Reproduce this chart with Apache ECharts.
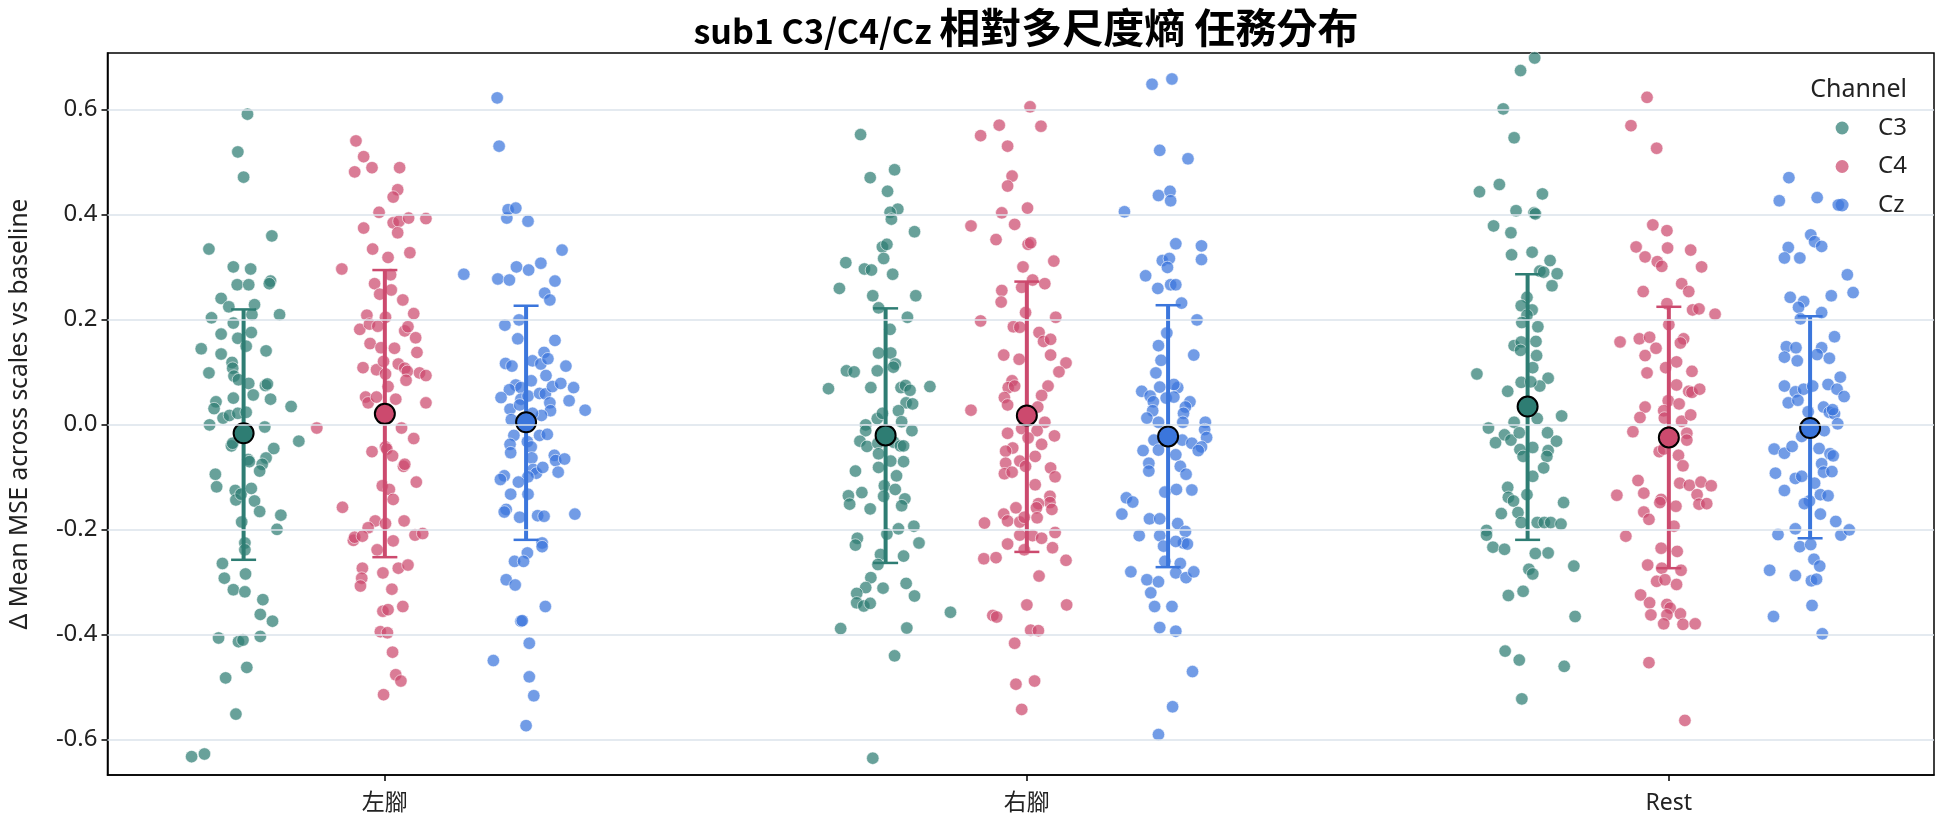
<!DOCTYPE html>
<html>
<head>
<meta charset="utf-8">
<title>sub1 C3/C4/Cz 相對多尺度熵 任務分布</title>
<script src="https://cdn.jsdelivr.net/npm/echarts@6/dist/echarts.min.js"></script>
<style>
  html, body { margin: 0; padding: 0; background: #fff; }
  #main { width: 1944px; height: 827px; }
</style>
</head>
<body>
<div id="main"></div>
<script>
var tasks = ['左腳', '右腳', 'Rest'];
var channels = ['C3', 'C4', 'Cz'];
var colors = ['#2e7d73', '#cc4a6e', '#3b76dc'];
var yTicks = [-0.6, -0.4, -0.2, 0, 0.2, 0.4, 0.6];

// 每個點的值 + 水平抖動 (單位: 千分之一個類別寬)
var c3LeftY = [0.591,0.519,0.471,0.359,0.334,0.300,0.296,0.266,0.266,0.273,0.268,0.240,0.224,0.228,0.203,0.209,0.209,0.193,0.172,0.164,0.175,0.144,0.134,0.149,0.140,0.118,0.107,0.098,0.092,0.085,0.078,0.074,0.077,0.056,0.048,0.050,0.043,0.030,0.034,0.012,0.017,0.021,0.023,-0.001,-0.005,-0.032,-0.041,-0.036,-0.046,-0.067,-0.071,-0.064,-0.076,-0.089,-0.095,-0.119,-0.126,-0.144,-0.133,-0.122,-0.146,-0.166,-0.173,-0.200,-0.186,-0.226,-0.239,-0.265,-0.293,-0.285,-0.315,-0.319,-0.334,-0.362,-0.375,-0.407,-0.414,-0.411,-0.404,-0.463,-0.483,-0.552,-0.633,-0.628];
var c3LeftJit = [6,-9,0,44,-54,-16,11,-10,8,42,40,-35,-23,17,-50,13,56,-16,-35,-9,12,-66,-35,4,35,-18,-17,-54,-15,-8,8,34,37,15,42,-16,-43,-46,74,-32,-22,-9,4,-53,33,86,-19,-17,47,7,9,35,29,25,-44,-42,-13,-12,-4,12,17,25,58,52,-3,2,2,-33,-30,3,-16,2,30,26,45,-39,-8,-1,26,5,-28,-12,-81,-61];
var c4LeftY = [0.540,0.510,0.481,0.489,0.489,0.447,0.433,0.404,0.374,0.384,0.387,0.393,0.392,0.365,0.334,0.327,0.318,0.296,0.285,0.268,0.256,0.248,0.237,0.208,0.204,0.211,0.181,0.191,0.187,0.178,0.186,0.165,0.154,0.146,0.145,0.137,0.108,0.104,0.120,0.096,0.115,0.107,0.101,0.098,0.093,0.084,0.072,0.052,0.041,0.052,0.048,0.041,-0.007,-0.007,-0.027,-0.052,-0.043,-0.047,-0.060,-0.080,-0.076,-0.110,-0.117,-0.124,-0.143,-0.158,-0.184,-0.197,-0.189,-0.184,-0.221,-0.215,-0.213,-0.211,-0.208,-0.239,-0.222,-0.274,-0.293,-0.308,-0.283,-0.274,-0.268,-0.314,-0.356,-0.353,-0.347,-0.395,-0.397,-0.434,-0.477,-0.489,-0.515];
var c4LeftJit = [-45,-33,-47,-20,23,20,13,-9,-33,13,22,37,64,20,-19,39,5,-67,9,-16,10,-8,28,-28,1,45,-39,-24,-11,31,36,48,-23,-6,15,50,-34,-13,-2,1,21,31,35,54,64,33,5,-30,-26,-13,17,64,-106,26,45,-20,1,3,12,29,31,49,-4,7,13,-66,-15,-26,1,30,-49,-47,-35,47,59,-12,13,-35,-36,-38,-3,21,36,11,-3,5,28,-7,4,12,17,25,-2];
var czLeftY = [0.622,0.530,0.393,0.409,0.412,0.387,0.332,0.286,0.277,0.275,0.300,0.294,0.307,0.273,0.250,0.237,0.189,0.199,0.163,0.160,0.116,0.111,0.121,0.115,0.137,0.125,0.111,0.093,0.083,0.075,0.066,0.070,0.051,0.048,0.054,0.059,0.058,0.072,0.078,0.070,0.045,0.041,0.026,0.029,0.037,0.027,0.009,0.017,0.021,-0.021,-0.033,-0.021,-0.019,-0.038,-0.043,-0.054,-0.064,-0.059,-0.069,-0.066,-0.086,-0.093,-0.082,-0.091,-0.100,-0.098,-0.105,-0.110,-0.133,-0.133,-0.162,-0.167,-0.177,-0.174,-0.175,-0.171,-0.226,-0.233,-0.245,-0.261,-0.261,-0.296,-0.306,-0.347,-0.375,-0.374,-0.417,-0.450,-0.481,-0.517,-0.574];
var czLeftJit = [-45,-42,-30,-28,-16,3,56,-97,-44,-26,-15,4,23,45,29,37,-33,-11,-13,45,-32,-22,10,23,28,34,62,31,8,-16,-26,-8,-39,-8,3,21,30,41,54,74,67,37,38,-25,-10,92,-23,24,10,-19,2,21,33,-25,8,-24,9,44,46,60,11,16,26,50,3,-34,-40,-12,3,-24,-31,-34,-10,18,28,76,25,25,2,-18,-4,-31,-17,30,-8,-6,5,-51,5,12,0];

var c3RightY = [0.552,0.485,0.470,0.444,0.410,0.404,0.391,0.367,0.338,0.343,0.316,0.308,0.296,0.294,0.286,0.259,0.245,0.245,0.222,0.204,0.181,0.136,0.136,0.115,0.109,0.102,0.100,0.102,0.068,0.070,0.070,0.074,0.065,0.072,0.041,0.039,0.026,0.011,0.021,0.005,-0.001,-0.012,-0.012,-0.032,-0.042,-0.036,-0.034,-0.041,-0.041,-0.056,-0.070,-0.071,-0.082,-0.089,-0.098,-0.117,-0.124,-0.130,-0.136,-0.152,-0.137,-0.142,-0.155,-0.161,-0.194,-0.199,-0.209,-0.217,-0.230,-0.226,-0.248,-0.251,-0.267,-0.292,-0.311,-0.312,-0.303,-0.327,-0.322,-0.340,-0.346,-0.341,-0.358,-0.389,-0.388,-0.441,-0.636];
var c3RightJit = [-39,14,-24,3,19,7,9,45,-5,2,-3,-62,-33,-22,11,-72,-20,47,-11,34,7,-11,8,15,12,-61,-49,-13,-89,-23,24,31,38,69,32,42,20,-13,-5,25,-31,-31,41,-40,-29,-12,13,23,28,-11,8,28,-11,-47,17,-2,15,-37,-58,-56,-3,30,25,-24,44,20,2,-44,-47,52,-8,28,-12,-23,-31,-4,32,45,-45,-45,-34,-24,101,-70,33,14,-20];
var c4RightY = [0.605,0.570,0.568,0.550,0.530,0.473,0.454,0.412,0.403,0.378,0.381,0.352,0.343,0.346,0.311,0.300,0.275,0.261,0.268,0.255,0.233,0.213,0.204,0.197,0.186,0.185,0.175,0.158,0.162,0.132,0.124,0.132,0.117,0.100,0.083,0.070,0.073,0.073,0.051,0.055,0.037,0.033,0.027,0.004,-0.008,-0.012,-0.017,-0.026,-0.022,-0.038,-0.045,-0.051,-0.061,-0.070,-0.080,-0.074,-0.083,-0.094,-0.091,-0.100,-0.115,-0.137,-0.149,-0.151,-0.162,-0.159,-0.159,-0.171,-0.184,-0.186,-0.177,-0.178,-0.188,-0.206,-0.211,-0.212,-0.217,-0.228,-0.235,-0.239,-0.256,-0.254,-0.259,-0.289,-0.344,-0.344,-0.364,-0.367,-0.392,-0.393,-0.417,-0.495,-0.489,-0.543];
var c4RightJit = [5,-43,22,-72,-30,-23,-30,1,-39,-87,-19,-48,2,6,42,-6,9,-8,28,-39,-40,-2,45,-72,-21,-11,19,26,37,-36,-12,37,61,50,-23,-29,-19,33,-35,23,-30,17,-87,28,-8,16,-30,2,43,23,-22,-33,13,-11,-2,-33,37,-35,-23,44,13,36,36,18,39,-17,15,-36,-30,-11,-4,16,-66,44,-11,9,23,-30,40,-4,-67,-48,61,19,0,62,-53,-47,6,18,-19,-17,12,-8];
var czRightY = [0.648,0.658,0.522,0.506,0.436,0.444,0.426,0.405,0.344,0.340,0.314,0.312,0.316,0.299,0.283,0.259,0.266,0.266,0.231,0.199,0.174,0.150,0.132,0.122,0.098,0.063,0.071,0.070,0.076,0.054,0.043,0.050,0.052,0.043,0.033,0.021,0.026,0.012,0.004,0.004,0.004,-0.010,-0.025,-0.030,-0.030,-0.036,-0.043,-0.050,-0.050,-0.049,-0.058,-0.074,-0.089,-0.080,-0.095,-0.129,-0.124,-0.125,-0.140,-0.148,-0.171,-0.180,-0.180,-0.189,-0.204,-0.212,-0.212,-0.226,-0.228,-0.223,-0.232,-0.261,-0.265,-0.281,-0.296,-0.300,-0.283,-0.292,-0.281,-0.321,-0.347,-0.347,-0.387,-0.394,-0.471,-0.538,-0.591];
var czRightJit = [-25,6,-13,31,-15,3,4,-68,12,52,52,-9,2,-1,-35,-16,4,12,21,45,-2,-15,40,-11,-19,-41,-13,15,9,-28,-23,-3,9,34,27,24,-24,-33,-15,23,58,57,60,-22,22,37,52,47,-39,-15,12,-30,-30,19,28,-5,13,37,-65,-55,-72,-29,-13,15,27,-45,-13,24,30,12,-7,-5,19,-58,-33,-15,12,28,40,-27,-21,6,-13,12,38,7,-15];

var c3RestY = [0.698,0.674,0.601,0.546,0.443,0.457,0.439,0.407,0.403,0.401,0.378,0.365,0.323,0.328,0.312,0.292,0.290,0.287,0.264,0.242,0.226,0.218,0.208,0.194,0.186,0.150,0.157,0.158,0.141,0.131,0.108,0.096,0.088,0.073,0.080,0.081,0.063,0.016,0.011,-0.007,0.004,-0.020,-0.035,-0.030,-0.016,-0.016,-0.032,-0.044,-0.050,-0.048,-0.061,-0.061,-0.083,-0.099,-0.120,-0.139,-0.146,-0.134,-0.170,-0.168,-0.187,-0.187,-0.187,-0.187,-0.190,-0.149,-0.202,-0.211,-0.234,-0.238,-0.246,-0.245,-0.270,-0.276,-0.285,-0.318,-0.326,-0.366,-0.432,-0.449,-0.461,-0.523];
var c3RestJit = [11,-11,-38,-21,-75,-44,23,-18,10,12,-53,-26,-25,7,35,19,25,46,38,-1,-10,7,-1,-9,16,-21,-10,13,-11,14,8,-79,32,19,-10,5,-31,53,15,-61,-21,-36,-50,-26,-13,31,45,8,32,-12,-7,30,25,8,-31,-30,-22,-1,-41,-15,-10,15,26,36,52,56,-64,-64,-54,-36,12,32,72,2,8,-7,-30,74,-35,-13,57,-9];
var c4RestY = [0.623,0.569,0.526,0.380,0.369,0.338,0.336,0.332,0.319,0.310,0.301,0.300,0.268,0.253,0.253,0.230,0.218,0.220,0.210,0.190,0.157,0.163,0.166,0.163,0.155,0.145,0.131,0.119,0.108,0.098,0.101,0.075,0.063,0.061,0.067,0.045,0.039,0.033,0.026,0.013,0.012,0.006,0.018,-0.014,-0.017,-0.030,-0.052,-0.047,-0.059,-0.079,-0.107,-0.112,-0.116,-0.110,-0.117,-0.135,-0.131,-0.143,-0.149,-0.156,-0.134,-0.152,-0.151,-0.167,-0.181,-0.194,-0.213,-0.236,-0.242,-0.268,-0.274,-0.278,-0.299,-0.296,-0.305,-0.325,-0.340,-0.343,-0.350,-0.363,-0.363,-0.361,-0.380,-0.381,-0.380,-0.454,-0.564];
var c4RestJit = [-34,-59,-19,-25,-3,-51,-2,34,-37,-18,-11,51,20,-40,31,-3,37,47,72,0,-76,-46,-30,23,18,-20,-37,12,-5,-34,36,12,31,36,48,-1,16,-37,-8,-45,-7,20,34,-56,28,28,-15,-8,15,22,-48,17,32,50,66,-81,-39,-12,-14,11,44,47,59,-39,-31,8,-67,-12,13,-33,-11,19,-19,-6,12,-44,-30,-3,2,-28,-3,18,-8,22,41,-31,25];
var czRestY = [0.470,0.426,0.432,0.418,0.361,0.348,0.339,0.337,0.317,0.317,0.285,0.251,0.242,0.234,0.223,0.245,0.213,0.201,0.167,0.148,0.146,0.128,0.121,0.146,0.133,0.126,0.090,0.073,0.062,0.067,0.073,0.076,0.067,0.053,0.041,0.046,0.024,0.033,0.023,0.020,0.001,0.028,-0.012,-0.023,-0.047,-0.055,-0.042,-0.046,-0.056,-0.060,-0.075,-0.091,-0.090,-0.093,-0.103,-0.099,-0.112,-0.126,-0.134,-0.136,-0.146,-0.151,-0.171,-0.185,-0.199,-0.210,-0.211,-0.201,-0.233,-0.229,-0.257,-0.270,-0.278,-0.288,-0.298,-0.295,-0.345,-0.366,-0.399,-0.669];
var czRestJit = [-33,-48,11,44,1,7,18,-34,-40,-16,58,67,-31,-10,-18,33,18,-15,38,-37,-22,-40,-20,18,11,30,47,-40,-23,-10,4,28,42,53,-34,-19,-3,21,30,38,43,35,22,-13,-56,-40,-28,14,31,36,18,21,34,-54,-23,-13,7,-40,16,28,-1,-9,16,40,-23,-50,48,61,-16,1,6,15,-63,-23,2,10,3,-57,19,-17];

// 平均 與 誤差棒上下端 (依 左腳 / 右腳 / Rest)
var c3Mean = [-0.017, -0.021, 0.034];
var c3Hi = [0.219, 0.221, 0.286];
var c3Lo = [-0.258, -0.264, -0.220];
var c4Mean = [0.020, 0.017, -0.025];
var c4Hi = [0.294, 0.272, 0.224];
var c4Lo = [-0.253, -0.243, -0.274];
var czMean = [0.004, -0.023, -0.007];
var czHi = [0.226, 0.227, 0.206];
var czLo = [-0.220, -0.272, -0.217];

var pointsY = [[c3LeftY, c3RightY, c3RestY], [c4LeftY, c4RightY, c4RestY], [czLeftY, czRightY, czRestY]];
var pointsJit = [[c3LeftJit, c3RightJit, c3RestJit], [c4LeftJit, c4RightJit, c4RestJit], [czLeftJit, czRightJit, czRestJit]];
var means = [c3Mean, c4Mean, czMean];
var his = [c3Hi, c4Hi, czHi];
var los = [c3Lo, c4Lo, czLo];
var dodge = [-0.22, 0, 0.22];

var font = '"Noto Sans", "Noto Sans CJK TC", sans-serif';
var series = [];

// 網格線放在最底層
series.push({
  type: 'scatter',
  name: 'grid',
  data: [],
  z: 0,
  silent: true,
  markLine: {
    silent: true,
    symbol: 'none',
    animation: false,
    label: { show: false },
    lineStyle: { color: '#dbe3eb', width: 1.5, type: 'solid' },
    data: yTicks.map(function (v) { return { yAxis: v }; })
  }
});

channels.forEach(function (ch, c) {
  var data = [];
  for (var t = 0; t < tasks.length; t++) {
    var ys = pointsY[c][t], js = pointsJit[c][t];
    for (var i = 0; i < ys.length; i++) {
      data.push([t + dodge[c] + js[i] / 1000, ys[i]]);
    }
  }
  series.push({
    type: 'scatter',
    name: ch,
    data: data,
    z: 2,
    symbolSize: 12.5,
    itemStyle: { color: colors[c], opacity: 0.72, borderColor: '#fff', borderWidth: 0.8 }
  });
});

channels.forEach(function (ch, c) {
  var bars = [], mid = [];
  for (var t = 0; t < tasks.length; t++) {
    bars.push([t + dodge[c], los[c][t], his[c][t]]);
    mid.push([t + dodge[c], means[c][t]]);
  }
  series.push({
    type: 'custom',
    name: ch + ' sd',
    z: 3,
    data: bars,
    encode: { x: 0, y: [1, 2] },
    renderItem: function (params, api) {
      var top = api.coord([api.value(0), api.value(2)]);
      var bot = api.coord([api.value(0), api.value(1)]);
      var cap = 12.5;
      return {
        type: 'group',
        children: [
          { type: 'line', shape: { x1: top[0], y1: top[1], x2: bot[0], y2: bot[1] }, style: { stroke: colors[c], lineWidth: 4 } },
          { type: 'line', shape: { x1: top[0] - cap, y1: top[1], x2: top[0] + cap, y2: top[1] }, style: { stroke: colors[c], lineWidth: 2.5 } },
          { type: 'line', shape: { x1: bot[0] - cap, y1: bot[1], x2: bot[0] + cap, y2: bot[1] }, style: { stroke: colors[c], lineWidth: 2.5 } }
        ]
      };
    }
  });
  series.push({
    type: 'scatter',
    name: ch + ' mean',
    z: 4,
    data: mid,
    symbolSize: 20,
    itemStyle: { color: colors[c], opacity: 1, borderColor: '#000', borderWidth: 2 }
  });
});

var option = {
  animation: false,
  title: [
    {
      text: '{a|sub1 C3/C4/Cz }{b|相對多尺度熵 任務分布}',
      left: 1021,
      top: 2,
      textAlign: 'center',
      textStyle: {
        rich: {
          a: { fontFamily: '"Noto Sans CJK TC", sans-serif', fontSize: 34, fontWeight: 'bold', color: '#000', verticalAlign: 'bottom' },
          b: { fontFamily: '"Noto Sans CJK TC", sans-serif', fontSize: 41, fontWeight: 'bold', color: '#000', verticalAlign: 'bottom' }
        }
      }
    },
    {
      text: 'Channel',
      right: 32,
      top: 72,
      textStyle: { fontFamily: font, fontSize: 25, fontWeight: 'normal', color: '#222' }
    }
  ],
  legend: {
    data: channels.map(function (ch, c) {
      return { name: ch, itemStyle: { color: colors[c], opacity: 0.72, borderWidth: 0 } };
    }),
    orient: 'vertical',
    align: 'left',
    right: 32,
    top: 111,
    icon: 'circle',
    symbolKeepAspect: true,
    itemWidth: 62,
    itemHeight: 13,
    itemGap: 14.5,
    textStyle: { fontFamily: font, fontSize: 24, color: '#222', lineHeight: 24 }
  },
  grid: {
    left: 107,
    right: 10,
    top: 53,
    bottom: 52,
    show: true,
    borderColor: '#000',
    borderWidth: 1.5
  },
  xAxis: {
    type: 'value',
    min: -0.432,
    max: 2.413,
    splitLine: { show: false },
    axisLine: { onZero: false, lineStyle: { color: '#000', width: 1.5 } },
    axisTick: { customValues: [0, 1, 2], length: 6, lineStyle: { color: '#000', width: 1.5 } },
    axisLabel: {
      customValues: [0, 1, 2],
      margin: 17,
      fontFamily: font,
      fontSize: 23,
      color: '#222',
      formatter: function (v) { return tasks[Math.round(v)]; }
    }
  },
  yAxis: {
    type: 'value',
    min: -0.668,
    max: 0.7075,
    name: 'Δ Mean MSE across scales vs baseline',
    nameLocation: 'middle',
    nameGap: 75,
    nameTextStyle: { fontFamily: font, fontSize: 24.5, color: '#222' },
    splitLine: { show: false },
    axisLine: { onZero: false, lineStyle: { color: '#000', width: 1.5 } },
    axisTick: { customValues: yTicks, length: 6, lineStyle: { color: '#000', width: 1.5 } },
    axisLabel: {
      customValues: yTicks,
      margin: 10,
      fontFamily: font,
      fontSize: 24,
      color: '#222',
      formatter: function (v) { return v.toFixed(1); }
    }
  },
  series: series
};

var myChart = echarts.init(document.getElementById('main'));
myChart.setOption(option);
</script>
</body>
</html>
